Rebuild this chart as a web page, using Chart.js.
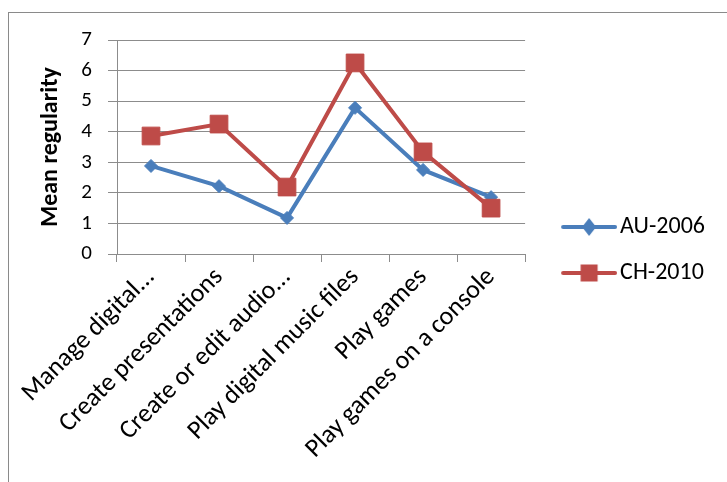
<!DOCTYPE html>
<html>
<head>
<meta charset="utf-8">
<script src="https://cdn.jsdelivr.net/npm/chart.js@4.4.1/dist/chart.umd.min.js"></script>
<style>
  html, body { margin: 0; padding: 0; background: #fff; }
</style>
</head>
<body>
<canvas id="regularityChart" width="727" height="482"></canvas>
<script>
var categories = ['Manage digital...', 'Create presentations', 'Create or edit audio...', 'Play digital music files', 'Play games', 'Play games on a console'];
var au2006 = [2.88, 2.22, 1.18, 4.78, 2.75, 1.86];
var ch2010 = [3.86, 4.25, 2.19, 6.25, 3.34, 1.5];
var yTicks = [0, 1, 2, 3, 4, 5, 6, 7];

var blue = '#4a7ebb';
var red = '#be4b48';
var gridGray = '#8c8c8c';
var fontFamily = 'Carlito, Calibri, Lato, sans-serif';

var legendFont = 24, legendPad = 22, legendBoxW = 61;

// little line + marker pictures for the legend
function legendSwatch(color, shape) {
  var c = document.createElement('canvas');
  c.width = 79; c.height = 22;
  var g = c.getContext('2d');
  g.strokeStyle = color;
  g.fillStyle = color;
  g.lineWidth = 4;
  g.lineCap = 'round';
  g.beginPath();
  g.moveTo(25, 11);
  g.lineTo(77, 11);
  g.stroke();
  g.beginPath();
  if (shape === 'diamond') {
    g.moveTo(51, 2); g.lineTo(58, 11); g.lineTo(51, 20); g.lineTo(44, 11);
  } else {
    g.rect(42.5, 2.5, 17, 17);
  }
  g.closePath();
  g.fill();
  return c;
}
var swatches = [legendSwatch(blue, 'diamond'), legendSwatch(red, 'square')];

// work out right padding so the plot ends where the reference does
var mctx = document.createElement('canvas').getContext('2d');
mctx.font = legendFont + 'px ' + fontFamily;
var textW = Math.max(mctx.measureText('AU-2006').width, mctx.measureText('CH-2010').width);
var rightPad = Math.max(0, Math.round(727 - 525 - (legendPad + legendBoxW + legendFont / 2 + textW + 10)));

var frame = {
  id: 'frame',
  beforeDraw: function(chart) {
    var ctx = chart.ctx;
    ctx.save();
    ctx.strokeStyle = '#8a8a8a';
    ctx.lineWidth = 1;
    ctx.strokeRect(8.5, 12.5, 1000, 1000);
    ctx.restore();
  }
};

var ctx = document.getElementById('regularityChart').getContext('2d');
var chart = new Chart(ctx, {
  type: 'line',
  data: {
    labels: categories,
    datasets: [{
      label: 'AU-2006',
      data: au2006,
      borderColor: blue,
      backgroundColor: blue,
      borderWidth: 4,
      pointStyle: 'rectRot',
      pointRadius: 6.5,
      pointBorderWidth: 1,
      pointBackgroundColor: blue,
      pointBorderColor: blue,
      tension: 0,
      order: 1
    }, {
      label: 'CH-2010',
      data: ch2010,
      borderColor: red,
      backgroundColor: red,
      borderWidth: 4,
      pointStyle: 'rect',
      pointRadius: 12.5,
      pointBorderWidth: 1,
      pointBackgroundColor: red,
      pointBorderColor: red,
      tension: 0,
      order: 0
    }]
  },
  options: {
    responsive: false,
    animation: false,
    events: [],
    layout: {
      padding: { left: 33, top: 40, right: rightPad, bottom: 22 }
    },
    scales: {
      x: {
        offset: true,
        grid: { offset: true, drawOnChartArea: false, drawTicks: true, tickLength: 8, color: gridGray },
        border: { color: gridGray, width: 1 },
        ticks: {
          autoSkip: false,
          minRotation: 45,
          maxRotation: 45,
          padding: 0,
          color: '#000',
          font: { family: fontFamily, size: 26 }
        },
        afterFit: function(scale) { scale.height = 206; }
      },
      y: {
        min: 0,
        max: 7,
        afterBuildTicks: function(scale) {
          scale.ticks = yTicks.map(function(v) { return { value: v }; });
        },
        grid: { color: gridGray, tickLength: 9 },
        border: { color: gridGray, width: 1 },
        ticks: {
          padding: 16,
          color: '#000',
          font: { family: fontFamily, size: 21 }
        },
        title: {
          display: true,
          text: 'Mean regularity',
          color: '#000',
          font: { family: fontFamily, size: 24, weight: 'bold' }
        },
        afterFit: function(scale) { scale.width = 84; }
      }
    },
    plugins: {
      legend: {
        position: 'right',
        maxWidth: 400,
        labels: {
          usePointStyle: true,
          pointStyleWidth: legendBoxW,
          padding: legendPad,
          color: '#000',
          font: { family: fontFamily, size: legendFont },
          sort: function(a, b) { return a.datasetIndex - b.datasetIndex; },
          generateLabels: function(chart) {
            var items = Chart.defaults.plugins.legend.labels.generateLabels(chart);
            items.forEach(function(it) { it.pointStyle = swatches[it.datasetIndex]; });
            return items;
          }
        }
      },
      tooltip: { enabled: false }
    }
  },
  plugins: [frame]
});
</script>
</body>
</html>
